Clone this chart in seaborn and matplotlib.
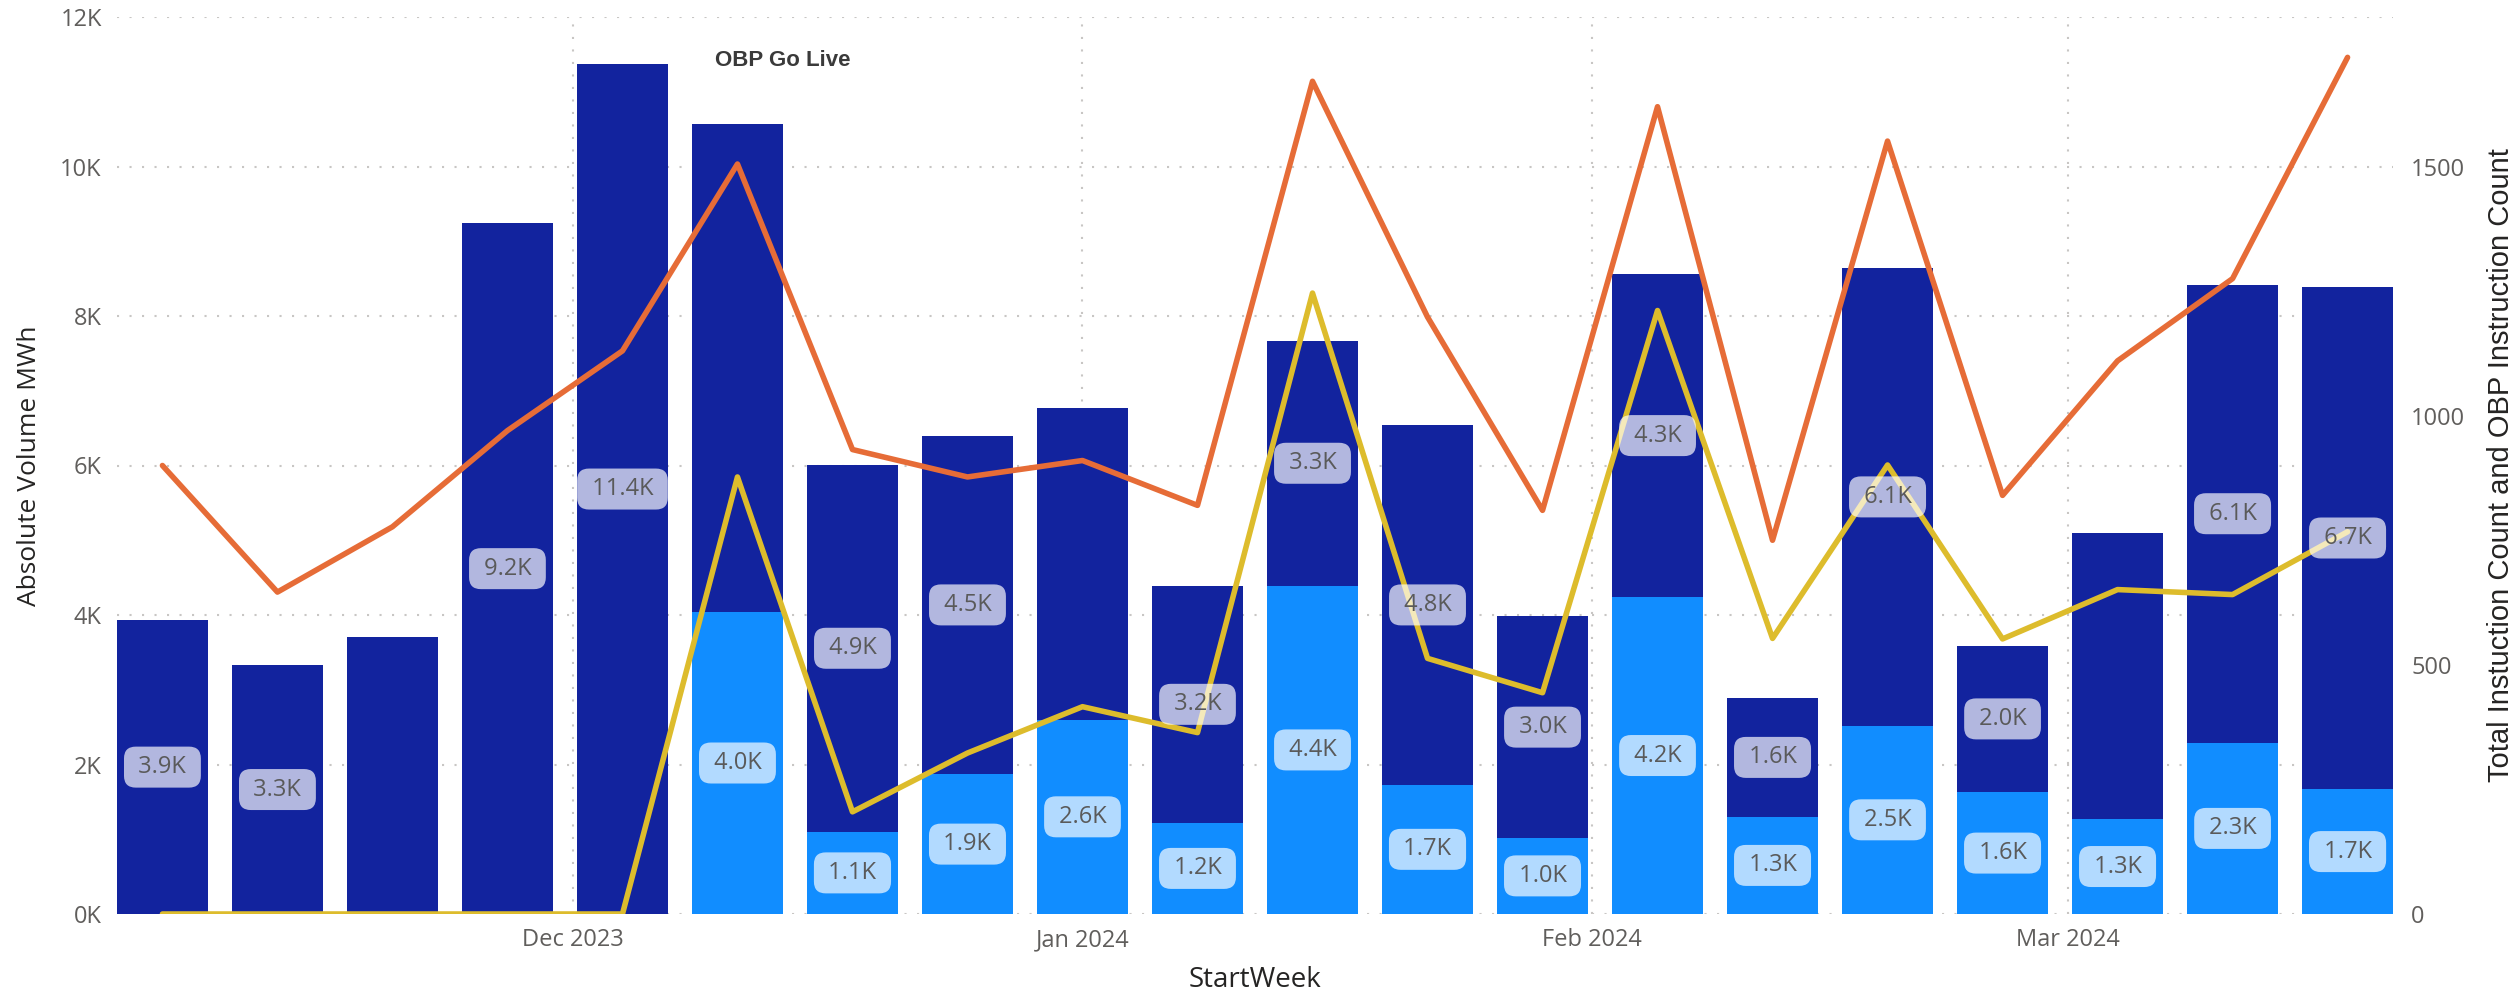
import matplotlib
matplotlib.use("Agg")
import matplotlib.pyplot as plt
import matplotlib.dates as mdates
import matplotlib.ticker as mticker
import seaborn as sns
import numpy as np
import pandas as pd

# ---------------- data ----------------
weeks = ["2023-11-06", "2023-11-13", "2023-11-20", "2023-11-27", "2023-12-04",
         "2023-12-11", "2023-12-18", "2023-12-25", "2024-01-01", "2024-01-08",
         "2024-01-15", "2024-01-22", "2024-01-29", "2024-02-05", "2024-02-12",
         "2024-02-19", "2024-02-26", "2024-03-04", "2024-03-11", "2024-03-18"]
obp_volume = [0, 0, 0, 0, 0, 4040, 1100, 1870, 2600, 1220,
              4390, 1730, 1020, 4240, 1300, 2520, 1630, 1270, 2290, 1670]
other_volume = [3930, 3330, 3700, 9240, 11370, 6530, 4910, 4530, 4170, 3170,
                3280, 4810, 2960, 4320, 1590, 6120, 1960, 3830, 6130, 6720]
total_instructions = [900, 646, 777, 970, 1130, 1505, 932, 877, 910, 820,
                      1671, 1198, 810, 1620, 750, 1551, 840, 1110, 1275, 1719]
obp_instructions = [0, 0, 0, 0, 0, 877, 205, 323, 416, 364,
                    1246, 513, 444, 1211, 553, 901, 552, 651, 641, 767]
# weeks whose upper-segment label is not shown in the reference
hidden_other_labels = ["2023-11-20", "2023-12-11", "2024-01-01", "2024-03-04"]

left_ticks = [0, 2000, 4000, 6000, 8000, 10000, 12000]
right_ticks = [0, 500, 1000, 1500]
annotation = "OBP Go Live"

# ---------------- style ----------------
DARK = "#12239E"
LIGHT = "#118DFF"
ORANGE = "#E66C37"
YELLOW = "#DDBC2C"
TICK = "#605E5C"
TITLE = "#252423"
GRID = "#C8C6C4"

sns.set_theme(style="white")
plt.rcParams["font.family"] = ["Open Sans", "DejaVu Sans"]

df = pd.DataFrame({
    "week": pd.to_datetime(weeks),
    "obp": obp_volume,
    "other": other_volume,
    "total_instr": total_instructions,
    "obp_instr": obp_instructions,
})
df["x"] = mdates.date2num(df["week"])
df["total"] = df["obp"] + df["other"]

fig = plt.figure(figsize=(25.2, 9.9), dpi=100)
ax = fig.add_axes([117 / 2520, 76 / 990, (2393 - 117) / 2520, (914 - 17) / 990])

BAR_W = 0.79
sns.barplot(data=df, x="x", y="total", native_scale=True, width=BAR_W,
            color=DARK, saturation=1, errorbar=None, ax=ax, linewidth=0)
sns.barplot(data=df, x="x", y="obp", native_scale=True, width=BAR_W,
            color=LIGHT, saturation=1, errorbar=None, ax=ax, linewidth=0)

step = 7.0
xlim = (df["x"].iloc[0] - step * BAR_W / 2, df["x"].iloc[-1] + step * BAR_W / 2)
ax.set_xlim(*xlim)
ax.set_ylim(left_ticks[0], left_ticks[-1])
ax.set_yticks(left_ticks)
ax.yaxis.set_major_formatter(mticker.FuncFormatter(lambda v, p: f"{v/1000:.0f}K"))
ax.xaxis.set_major_locator(mdates.MonthLocator())
ax.xaxis.set_major_formatter(mdates.DateFormatter("%b %Y"))

ax.set_axisbelow(True)
ax.grid(True, axis="both", color=GRID, linestyle=(0, (1, 5)), linewidth=1.5)
for s in ax.spines.values():
    s.set_visible(False)
ax.tick_params(axis="both", length=0, labelsize=17, labelcolor=TICK)
ax.tick_params(axis="y", pad=11)
ax.tick_params(axis="x", pad=10)
ax.set_xlabel("StartWeek", fontsize=20, color=TITLE, labelpad=10)
ax.set_ylabel("Absolute Volume MWh", fontsize=19, color=TITLE, labelpad=13)

# secondary axis with lines
ax2 = ax.twinx()
sns.lineplot(data=df, x="x", y="total_instr", ax=ax2, color=ORANGE, linewidth=4.0)
sns.lineplot(data=df, x="x", y="obp_instr", ax=ax2, color=YELLOW, linewidth=4.0)
ax2.set_ylim(0, 1800)
ax2.set_yticks(right_ticks)
ax2.grid(False)
for s in ax2.spines.values():
    s.set_visible(False)
ax2.tick_params(axis="y", length=0, labelsize=17, labelcolor=TICK, pad=13)
ax2.set_ylabel("Total Instuction Count and OBP Instruction Count", fontsize=21,
               color=TITLE, labelpad=16,
               family=["Liberation Sans Narrow", "Liberation Sans", "DejaVu Sans"])
ax2.set_xlabel("")
ax.set_xlim(*xlim)

# data labels (drawn above the lines)
box = dict(boxstyle="round,pad=0.36,rounding_size=0.5", fc="white", ec="none", alpha=0.68)
hidden = set(pd.to_datetime(hidden_other_labels))
for _, r in df.iterrows():
    if r["obp"] > 0:
        ax2.text(r["x"], r["obp"] / 2, f" {r['obp']/1000:.1f}K ", transform=ax.transData,
                 ha="center", va="center", fontsize=17, color="#5A5A5A", bbox=box, zorder=10)
    if r["week"] not in hidden:
        ax2.text(r["x"], r["obp"] + r["other"] / 2, f" {r['other']/1000:.1f}K ",
                 transform=ax.transData, ha="center", va="center", fontsize=17,
                 color="#5A5A5A", bbox=box, zorder=10)

fig.text(783 / 2520, 1 - 60 / 990, annotation, ha="center", va="center",
         fontsize=16, fontweight="bold", color="#3A3A3A",
         family=["Liberation Sans", "DejaVu Sans"])

fig.savefig("out.png", dpi=100)
